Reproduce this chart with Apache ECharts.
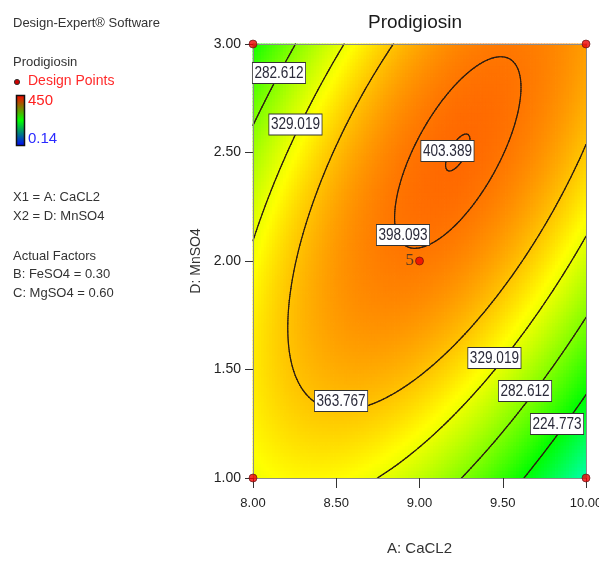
<!DOCTYPE html>
<html>
<head>
<meta charset="utf-8">
<title>Prodigiosin</title>
<script src="https://cdn.jsdelivr.net/npm/echarts@6/dist/echarts.min.js"></script>
<style>
  html, body { margin: 0; padding: 0; background: #ffffff; overflow: hidden; }
  #chart { width: 599px; height: 570px; }
</style>
</head>
<body>
<div id="chart"></div>
<script>
// Quadratic response model for Prodigiosin in coded units:
// a = CaCL2 - 9.00, d = MnSO4 - 2.00 (FeSO4 = 0.30, MgSO4 = 0.60 held constant)
const modelTerms = ['Intercept', 'A', 'D', 'AD', 'A^2', 'D^2'];
const modelCoefs = [396.26, -8.84, 33.41, 83.0, -71.0, -52.5];

// Contour levels drawn on the surface
const contourLevels = [224.773, 282.612, 329.019, 363.767, 398.093, 403.389];

// Where each contour value is written: [CaCL2, MnSO4, level]
const contourLabelAt = [
  [8.156, 2.866, 282.612],
  [8.255, 2.629, 329.019],
  [9.168, 2.507, 403.389],
  [8.901, 2.120, 398.093],
  [8.529, 1.355, 363.767],
  [9.450, 1.553, 329.019],
  [9.634, 1.401, 282.612],
  [9.826, 1.249, 224.773]
];

// Design points [CaCL2, MnSO4] and their replicate counts
const designPoints = [[8, 1], [8, 3], [10, 1], [10, 3], [9, 2]];
const designReplicates = [1, 1, 1, 1, 5];

// Axis ranges and tick spacing
const xRange = [8, 10];
const yRange = [1, 3];
const tickStep = 0.5;

// Response colour scale
const colorMin = 0.14;
const colorMax = 450;

function surface(x, y) {
  const a = x - 9, d = y - 2;
  const t = [1, a, d, a * d, a * a, d * d];
  let s = 0;
  for (let i = 0; i < t.length; i++) s += modelCoefs[i] * t[i];
  return s;
}

// Filled surface: small cells evaluated from the model
const NC = 120;
const cells = [];
{
  const dx = (xRange[1] - xRange[0]) / NC, dy = (yRange[1] - yRange[0]) / NC;
  for (let i = 0; i < NC; i++) {
    for (let j = 0; j < NC; j++) {
      const x0 = xRange[0] + i * dx, y0 = yRange[0] + j * dy;
      cells.push([x0, y0, x0 + dx, y0 + dy, surface(x0 + dx / 2, y0 + dy / 2)]);
    }
  }
}

// Contour segments by marching squares
const NS = 220;
const segments = [];
{
  const dx = (xRange[1] - xRange[0]) / NS, dy = (yRange[1] - yRange[0]) / NS;
  const g = [];
  for (let i = 0; i <= NS; i++) {
    g.push([]);
    for (let j = 0; j <= NS; j++) g[i].push(surface(xRange[0] + i * dx, yRange[0] + j * dy));
  }
  const lerp = (p, q, vp, vq, L) => p + (q - p) * (L - vp) / (vq - vp);
  contourLevels.forEach(L => {
    for (let i = 0; i < NS; i++) {
      for (let j = 0; j < NS; j++) {
        const x0 = xRange[0] + i * dx, x1 = x0 + dx;
        const y0 = yRange[0] + j * dy, y1 = y0 + dy;
        const v00 = g[i][j], v10 = g[i + 1][j], v11 = g[i + 1][j + 1], v01 = g[i][j + 1];
        const pts = [];
        if ((v00 < L) !== (v10 < L)) pts.push([lerp(x0, x1, v00, v10, L), y0]);
        if ((v10 < L) !== (v11 < L)) pts.push([x1, lerp(y0, y1, v10, v11, L)]);
        if ((v01 < L) !== (v11 < L)) pts.push([lerp(x0, x1, v01, v11, L), y1]);
        if ((v00 < L) !== (v01 < L)) pts.push([x0, lerp(y0, y1, v00, v01, L)]);
        if (pts.length === 2) {
          segments.push([pts[0][0], pts[0][1], pts[1][0], pts[1][1]]);
        } else if (pts.length === 4) {
          segments.push([pts[0][0], pts[0][1], pts[1][0], pts[1][1]]);
          segments.push([pts[2][0], pts[2][1], pts[3][0], pts[3][1]]);
        }
      }
    }
  });
}

const sans = '"Liberation Sans", Arial, sans-serif';

const chart = echarts.init(document.getElementById('chart'), null, { renderer: 'canvas' });

const axisCommon = {
  type: 'value',
  interval: tickStep,
  z: 6,
  splitLine: { show: false },
  axisLine: { show: true, onZero: false, lineStyle: { color: '#8c8c8c', width: 1 } }
};

const leftText = (text, y) => ({
  type: 'text', left: 13, top: y - 8,
  style: { text: text, font: '13px ' + sans, fill: '#333333' }
});

chart.setOption({
  animation: false,
  backgroundColor: '#ffffff',
  title: {
    text: 'Prodigiosin',
    left: 410, top: 8, textAlign: 'center',
    textStyle: { fontFamily: sans, fontSize: 19, fontWeight: 'normal', color: '#1a1a1a' }
  },
  grid: { left: 253, right: 13, top: 44, bottom: 92, containLabel: false, outerBoundsMode: 'none' },
  xAxis: [
    Object.assign({}, axisCommon, {
      min: xRange[0], max: xRange[1], position: 'bottom',
      name: 'A: CaCL2', nameLocation: 'middle', nameGap: 63,
      nameTextStyle: { fontFamily: sans, fontSize: 15, color: '#333333' },
      axisTick: { show: true, inside: false, length: 10, lineStyle: { color: '#333333' } },
      axisLabel: { margin: 19, fontFamily: sans, fontSize: 13, color: '#222222',
        hideOverlap: false, formatter: v => v.toFixed(2) }
    }),
    Object.assign({}, axisCommon, {
      min: xRange[0], max: xRange[1], position: 'top',
      axisTick: { show: false }, axisLabel: { show: false }
    })
  ],
  yAxis: [
    Object.assign({}, axisCommon, {
      min: yRange[0], max: yRange[1], position: 'left',
      name: 'D: MnSO4', nameLocation: 'middle', nameGap: 42, nameRotate: 90,
      nameTextStyle: { fontFamily: sans, fontSize: 14, color: '#333333' },
      axisTick: { show: true, inside: false, length: 8, lineStyle: { color: '#333333' } },
      axisLabel: { margin: 12, fontFamily: sans, fontSize: 14, color: '#222222',
        formatter: v => v.toFixed(2) }
    }),
    Object.assign({}, axisCommon, {
      min: yRange[0], max: yRange[1], position: 'right',
      axisTick: { show: false }, axisLabel: { show: false }
    })
  ],
  visualMap: {
    type: 'continuous', show: false,
    min: colorMin, max: colorMax, dimension: 4, seriesIndex: 0,
    inRange: { color: ['#0000ff', '#00ffff', '#00ff00', '#ffff00', '#ff0000'] }
  },
  graphic: [
    leftText('Design-Expert\u00ae Software', 25),
    leftText('Prodigiosin', 64),
    { type: 'circle', shape: { cx: 17, cy: 82, r: 2.6 },
      style: { fill: '#cc0000', stroke: '#333333', lineWidth: 1 } },
    { type: 'text', left: 28, top: 74,
      style: { text: 'Design Points', font: '14px ' + sans, fill: '#ff2a2a' } },
    { type: 'rect', shape: { x: 16.5, y: 95.5, width: 8, height: 50 },
      style: {
        fill: new echarts.graphic.LinearGradient(0, 0, 0, 1, [
          { offset: 0, color: '#ff0000' },
          { offset: 0.5, color: '#00ff00' },
          { offset: 1, color: '#0000ff' }
        ]),
        stroke: '#111111', lineWidth: 1.5
      } },
    { type: 'text', left: 28, top: 93,
      style: { text: '450', font: '15px ' + sans, fill: '#ff2020' } },
    { type: 'text', left: 28, top: 131,
      style: { text: '0.14', font: '15px ' + sans, fill: '#2a2aff' } },
    leftText('X1 = A: CaCL2', 199),
    leftText('X2 = D: MnSO4', 218),
    leftText('Actual Factors', 258),
    leftText('B: FeSO4 = 0.30', 276),
    leftText('C: MgSO4 = 0.60', 295)
  ],
  series: [
    {
      // filled response surface
      type: 'custom',
      coordinateSystem: 'cartesian2d',
      xAxisIndex: 0, yAxisIndex: 0,
      data: cells,
      encode: { x: [0, 2], y: [1, 3] },
      progressive: 0,
      silent: true,
      z: 1,
      renderItem: function (params, api) {
        const p0 = api.coord([api.value(0), api.value(3)]);
        const p1 = api.coord([api.value(2), api.value(1)]);
        return {
          type: 'rect',
          shape: { x: p0[0] - 0.4, y: p0[1] - 0.4, width: p1[0] - p0[0] + 0.8, height: p1[1] - p0[1] + 0.8 },
          style: { fill: api.visual('color') }
        };
      }
    },
    {
      // contour lines
      type: 'custom',
      coordinateSystem: 'cartesian2d',
      xAxisIndex: 0, yAxisIndex: 0,
      data: segments,
      encode: { x: [0, 2], y: [1, 3] },
      progressive: 0,
      silent: true,
      z: 3,
      renderItem: function (params, api) {
        const a = api.coord([api.value(0), api.value(1)]);
        const b = api.coord([api.value(2), api.value(3)]);
        return {
          type: 'line',
          shape: { x1: a[0], y1: a[1], x2: b[0], y2: b[1] },
          style: { stroke: '#2b1d12', lineWidth: 1.2, lineCap: 'round' }
        };
      }
    },
    {
      // contour value boxes
      type: 'custom',
      coordinateSystem: 'cartesian2d',
      xAxisIndex: 0, yAxisIndex: 0,
      data: contourLabelAt,
      encode: { x: 0, y: 1 },
      silent: true,
      z: 8,
      renderItem: function (params, api) {
        const c = api.coord([api.value(0), api.value(1)]);
        return {
          type: 'text',
          x: c[0], y: c[1],
          scaleX: 0.8,
          style: {
            text: api.value(2).toFixed(3),
            align: 'center', verticalAlign: 'middle',
            font: '17px ' + sans,
            fill: '#2a2a3a',
            backgroundColor: '#ffffff',
            borderColor: '#333333', borderWidth: 1,
            padding: [2, 2, 1, 2]
          }
        };
      }
    },
    {
      // design points
      type: 'scatter',
      xAxisIndex: 0, yAxisIndex: 0,
      data: designPoints.map((p, i) => ({ value: p, reps: designReplicates[i] })),
      symbol: 'circle',
      symbolSize: 8,
      z: 9,
      itemStyle: { color: '#ee0000', borderColor: '#551111', borderWidth: 0.8 },
      label: {
        show: true, position: 'left', distance: 1,
        fontFamily: '"Liberation Serif", "Times New Roman", serif', fontSize: 17, color: '#2a2a2a',
        formatter: p => (p.data.reps > 1 ? String(p.data.reps) : '')
      }
    }
  ]
});
</script>
</body>
</html>
